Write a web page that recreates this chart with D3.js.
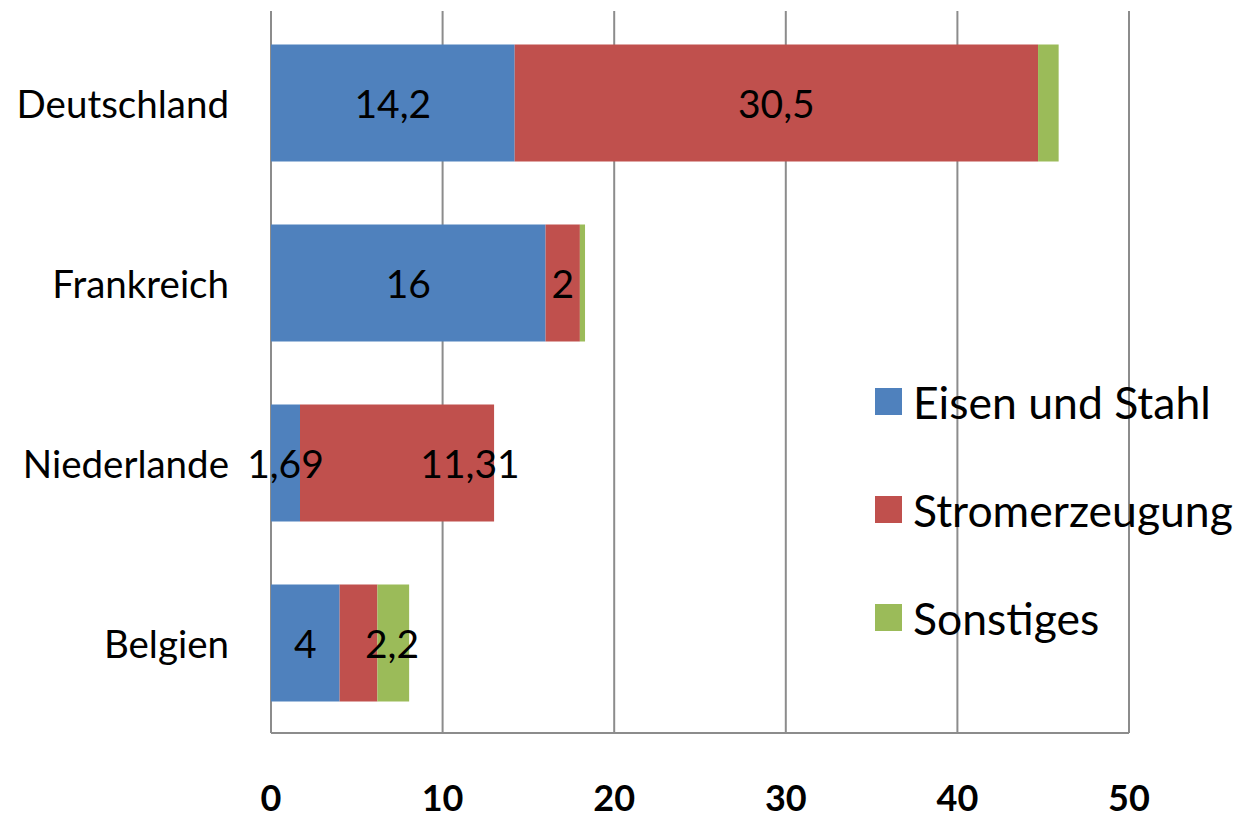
<!DOCTYPE html>
<html>
<head>
<meta charset="utf-8">
<script src="https://cdn.jsdelivr.net/npm/d3@7"></script>
<style>
  html, body { margin: 0; padding: 0; background: #ffffff; }
  svg { display: block; font-family: Lato, "Liberation Sans", sans-serif; }
</style>
</head>
<body>
<svg id="chart" width="1243" height="819"></svg>
<script>
// ---- data ----
const categories = ["Deutschland", "Frankreich", "Niederlande", "Belgien"];
const seriesNames = ["Eisen und Stahl", "Stromerzeugung", "Sonstiges"];
const eisenUndStahl = [14.2, 16, 1.69, 4];
const stromerzeugung = [30.5, 2, 11.31, 2.2];
const sonstiges = [1.2, 0.3, 0, 1.85];
const labelText = [["14,2", "30,5", ""], ["16", "2", ""], ["1,69", "11,31", ""], ["4", "2,2", ""]];
const labelShift = [[0, 0, 0], [0, 0, 0], [0, 4.25, 0], [0, 1.95, 0]]; // manually moved labels (value units)
const tickValues = [0, 10, 20, 30, 40, 50];
const colors = ["#4F81BD", "#C0504D", "#9BBB59"];

// ---- layout ----
const svg = d3.select("#chart");
const plotLeft = 271, plotRight = 1129, plotTop = 13, plotBottom = 733;

const x = d3.scaleLinear().domain([0, 50]).range([plotLeft, plotRight]);
const y = d3.scaleBand().domain(categories).range([plotTop, plotBottom]).paddingInner(0.35).paddingOuter(0.175);

const seriesValues = [eisenUndStahl, stromerzeugung, sonstiges];
const rows = categories.map((c, i) => {
  const r = { cat: c };
  seriesNames.forEach((s, j) => r[s] = seriesValues[j][i]);
  return r;
});
const stack = d3.stack().keys(seriesNames)(rows);

// gridlines
svg.append("g").selectAll("line").data(tickValues).join("line")
  .attr("x1", d => x(d)).attr("x2", d => x(d))
  .attr("y1", 11).attr("y2", plotBottom)
  .attr("stroke", "#8c8c8c").attr("stroke-width", 2);

// bottom axis line
svg.append("line").attr("x1", x(0)).attr("x2", x(50)).attr("y1", plotBottom).attr("y2", plotBottom)
  .attr("stroke", "#8c8c8c").attr("stroke-width", 2);

// bars
stack.forEach((layer, j) => {
  svg.append("g").selectAll("rect").data(layer).join("rect")
    .attr("x", d => x(d[0]))
    .attr("width", d => Math.max(0, x(d[1]) - x(d[0])))
    .attr("y", d => y(d.data.cat))
    .attr("height", y.bandwidth())
    .attr("fill", colors[j]);
});

// data labels
stack.forEach((layer, j) => {
  svg.append("g").selectAll("text").data(layer).join("text")
    .attr("x", (d, i) => x((d[0] + d[1]) / 2 + labelShift[i][j]))
    .attr("y", d => y(d.data.cat) + y.bandwidth() / 2)
    .attr("text-anchor", "middle")
    .attr("dominant-baseline", "central")
    .attr("font-size", 39)
    .attr("fill", "#000")
    .text((d, i) => labelText[i][j]);
});

// category labels
svg.append("g").selectAll("text").data(categories).join("text")
  .attr("x", 229)
  .attr("y", d => y(d) + y.bandwidth() / 2)
  .attr("text-anchor", "end")
  .attr("dominant-baseline", "central")
  .attr("font-size", 38.5)
  .attr("fill", "#000")
  .text(d => d);

// x tick labels
svg.append("g").selectAll("text").data(tickValues).join("text")
  .attr("x", d => x(d))
  .attr("y", 797)
  .attr("text-anchor", "middle")
  .attr("dominant-baseline", "central")
  .attr("font-size", 36)
  .attr("font-weight", "bold")
  .attr("fill", "#000")
  .text(d => d);

// legend
const legY = [401, 509, 617];
const leg = svg.append("g").selectAll("g").data(seriesNames).join("g")
  .attr("transform", (d, i) => `translate(875, ${legY[i]})`);
leg.append("rect").attr("x", 0).attr("y", -13).attr("width", 27).attr("height", 27)
  .attr("fill", (d, i) => colors[i]);
leg.append("text").attr("x", 38).attr("y", 0)
  .attr("dominant-baseline", "central")
  .attr("font-size", 44.5)
  .attr("fill", "#000")
  .text(d => d);
</script>
</body>
</html>
